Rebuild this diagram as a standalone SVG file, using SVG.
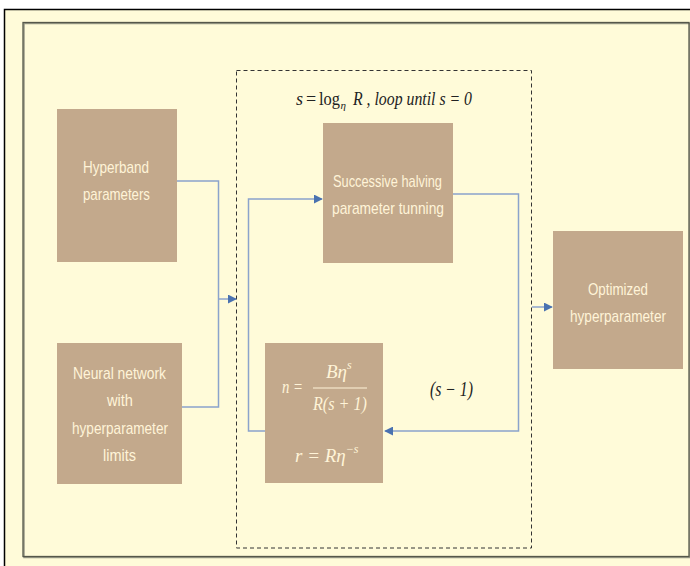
<svg xmlns="http://www.w3.org/2000/svg" width="690" height="566" viewBox="0 0 690 566">
<defs>
<style>
.box{fill:#C3A98C;}
.bt{font-family:"Liberation Sans",Arial,sans-serif;font-size:17px;fill:#FFF4D8;text-anchor:middle;}
.math{font-family:"Liberation Serif","DejaVu Serif",serif;font-style:italic;font-size:18px;fill:#222;}
.up{font-family:"Liberation Serif","DejaVu Serif",serif;font-size:18px;fill:#222;}
.mw{font-family:"Liberation Serif","DejaVu Serif",serif;font-style:italic;font-size:19px;fill:#FFF4D8;}
.conn{fill:none;stroke:#8BA3CC;stroke-width:1.5;}
</style>
<marker id="ah" viewBox="0 0 10 10" refX="9" refY="5" markerWidth="9" markerHeight="9" markerUnits="userSpaceOnUse" orient="auto">
<path d="M0,0 L10,5 L0,10 z" fill="#4A72B0"/>
</marker>
</defs>
<rect x="0" y="0" width="690" height="566" fill="#FFFFFF"/>
<rect x="4.5" y="9.5" width="700" height="600" fill="#FFFBD9" stroke="#000" stroke-width="1.5"/>
<rect x="24" y="23.5" width="666" height="534" fill="none" stroke="#9A9A88" stroke-width="1.5"/>
<rect x="23" y="22.5" width="666" height="534" fill="none" stroke="#55574A" stroke-width="1.3"/>
<rect x="236.5" y="70.5" width="295" height="477.5" fill="none" stroke="#333" stroke-width="1" stroke-dasharray="4,3"/>
<g id="title">
<text class="math" x="296" y="105">s</text>
<text class="up" x="306" y="105">=</text>
<text class="up" x="319" y="105" textLength="21" lengthAdjust="spacingAndGlyphs">log</text>
<text class="math" x="340.5" y="109" style="font-size:11px">η</text>
<text class="math" x="353" y="105" textLength="119" lengthAdjust="spacingAndGlyphs">R , loop until s = 0</text>
</g>
<g id="connectors">
<polyline class="conn" points="177,181 218.5,181 218.5,407 182,407"/>
<line class="conn" x1="218.5" y1="299" x2="236" y2="299" marker-end="url(#ah)"/>
<polyline class="conn" points="265,431 248.5,431 248.5,199 322,199" marker-end="url(#ah)"/>
<polyline class="conn" points="453,194 518.5,194 518.5,431 385,431" marker-end="url(#ah)"/>
<line class="conn" x1="532" y1="307" x2="552" y2="307" marker-end="url(#ah)"/>
</g>
<g id="hyperband">
<rect class="box" x="57" y="109" width="120" height="153"/>
<text class="bt" x="116" y="173" textLength="66" lengthAdjust="spacingAndGlyphs">Hyperband</text>
<text class="bt" x="116.5" y="200" textLength="67" lengthAdjust="spacingAndGlyphs">parameters</text>
</g>
<g id="neural">
<rect class="box" x="57" y="343" width="125" height="141"/>
<text class="bt" x="119.5" y="379" textLength="93" lengthAdjust="spacingAndGlyphs">Neural network</text>
<text class="bt" x="120" y="406" textLength="26" lengthAdjust="spacingAndGlyphs">with</text>
<text class="bt" x="120" y="434" textLength="96" lengthAdjust="spacingAndGlyphs">hyperparameter</text>
<text class="bt" x="119.5" y="461" textLength="33" lengthAdjust="spacingAndGlyphs">limits</text>
</g>
<g id="successive">
<rect class="box" x="323" y="123" width="130" height="140"/>
<text class="bt" x="387.5" y="187" textLength="109" lengthAdjust="spacingAndGlyphs">Successive halving</text>
<text class="bt" x="388" y="214" textLength="112" lengthAdjust="spacingAndGlyphs">parameter tunning</text>
</g>
<g id="formula">
<rect class="box" x="265" y="343" width="118" height="140"/>
<text class="mw" x="282" y="393" textLength="21" lengthAdjust="spacingAndGlyphs">n =</text>
<text class="mw" x="326" y="378">Bη<tspan style="font-size:12px" dy="-9">s</tspan></text>
<line x1="313" y1="388" x2="367" y2="388" stroke="#FFF4D8" stroke-width="1.2"/>
<text class="mw" x="313" y="410" textLength="54" lengthAdjust="spacingAndGlyphs">R(s + 1)</text>
<text class="mw" x="295" y="462">r = Rη<tspan style="font-size:12px" dy="-9">−s</tspan></text>
</g>
<g id="decrement"><text class="math" x="430" y="396" style="font-size:20px" textLength="43" lengthAdjust="spacingAndGlyphs">(s − 1)</text></g>
<g id="optimized">
<rect class="box" x="553" y="231" width="130" height="138"/>
<text class="bt" x="618" y="295" textLength="60" lengthAdjust="spacingAndGlyphs">Optimized</text>
<text class="bt" x="618" y="322" textLength="96" lengthAdjust="spacingAndGlyphs">hyperparameter</text>
</g>
</svg>
